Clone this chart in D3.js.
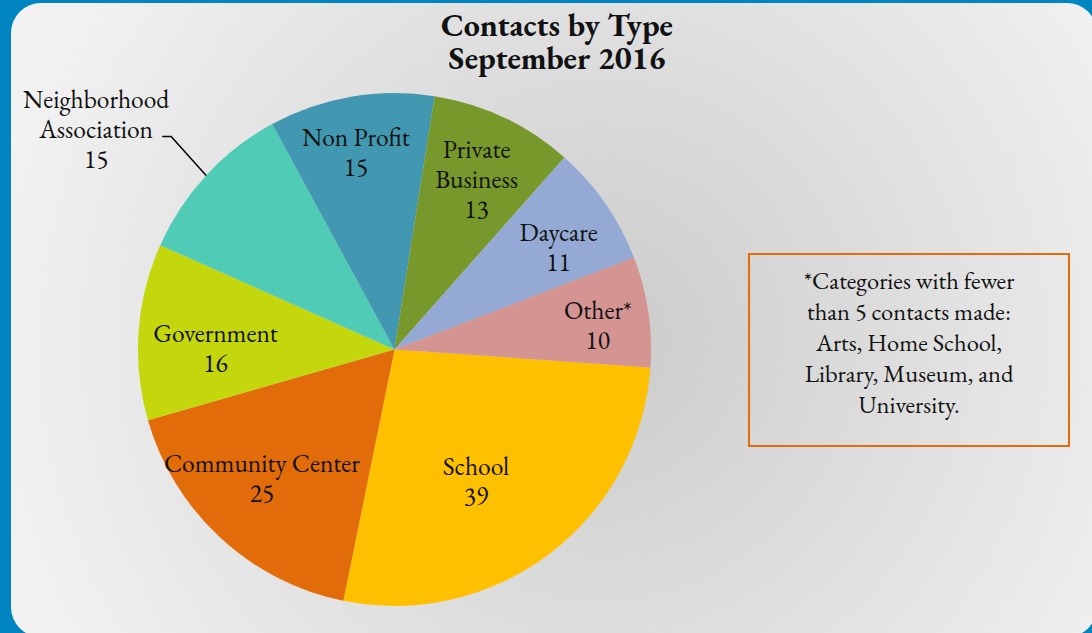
<!DOCTYPE html>
<html>
<head>
<meta charset="utf-8">
<script src="https://cdn.jsdelivr.net/npm/d3@7"></script>
<style>
  html, body { margin: 0; padding: 0; background: #0085c0; }
  svg { display: block; }
  text { font-family: "EB Garamond", Garamond, "Liberation Serif", "DejaVu Serif", serif; fill: #111; }
</style>
</head>
<body>
<svg id="chart" width="1092" height="633"></svg>
<script>
// ---- data ----
const categories = ["School", "Community Center", "Government", "Neighborhood Association",
                    "Non Profit", "Private Business", "Daycare", "Other*"];
const values = [39, 25, 16, 15, 15, 13, 11, 10];
const labelLines = [["School"], ["Community Center"], ["Government"], ["Neighborhood", "Association"],
                    ["Non Profit"], ["Private", "Business"], ["Daycare"], ["Other*"]];
const colors = ["#ffc000", "#e36c0a", "#c4d60c", "#50cbb5", "#4298b0", "#77992b", "#94aad4", "#d49492"];
const titleLines = ["Contacts by Type", "September 2016"];
const noteLines = ["*Categories with fewer", "than 5 contacts made:", "Arts, Home School,",
                   "Library, Museum, and", "University."];

// ---- layout ----
const W = 1092, H = 633;
const cx = 394.5, cy = 349.5, R = 256.5;
const startDeg = 94;
// label nudges from the centroid (Excel "best fit" placement)
const labelNudge = [[-35, -22], [-2, -13], [13, 12], null, [-6, -8], [0, 3], [6, 7], [13, 4]];
const outsideIndex = 3;

const svg = d3.select("#chart");
const defs = svg.append("defs");
const grad = defs.append("radialGradient").attr("id", "bg")
  .attr("gradientUnits", "userSpaceOnUse")
  .attr("cx", 600).attr("cy", 340).attr("r", 620);
grad.append("stop").attr("offset", 0).attr("stop-color", "#cbcbcb");
grad.append("stop").attr("offset", 1).attr("stop-color", "#f2f2f2");

svg.append("rect").attr("width", W).attr("height", H).attr("fill", "#0085c0");
svg.append("rect").attr("x", 11).attr("y", 3).attr("width", 1086).attr("height", 634)
  .attr("rx", 30).attr("ry", 30).attr("fill", "url(#bg)");

// title
svg.append("text").attr("x", 557).attr("text-anchor", "middle")
  .style("font-weight", "bold").style("font-size", "32px")
  .selectAll("tspan").data(titleLines).join("tspan")
  .attr("x", 557).attr("y", (d, i) => 36 + i * 33).text(d => d);

// pie
const pie = d3.pie().sort(null).value(d => d)
  .startAngle(startDeg * Math.PI / 180)
  .endAngle(startDeg * Math.PI / 180 + 2 * Math.PI);
const arcs = pie(values);
const arc = d3.arc().innerRadius(0).outerRadius(R);
const labelArc = d3.arc().innerRadius(R * 0.75).outerRadius(R * 0.75);
const edgeArc = d3.arc().innerRadius(R).outerRadius(R);

const g = svg.append("g").attr("transform", `translate(${cx},${cy})`);
g.selectAll("path.slice").data(arcs).join("path").attr("class", "slice")
  .attr("d", arc).attr("fill", (d, i) => colors[i]);

const lineH = 30;
arcs.forEach((d, i) => {
  const lines = labelLines[i].concat([String(values[i])]);
  let x, y;
  if (i === outsideIndex) {
    const [ex, ey] = edgeArc.centroid(d);
    const elbow = [ex - 35, ey - 39];
    const end = [ex - 44, ey - 39];
    g.append("polyline").attr("points", [[ex, ey], elbow, end].map(p => p.join(",")).join(" "))
      .attr("fill", "none").attr("stroke", "#000").attr("stroke-width", 1.5);
    x = ex - 110; y = ey - 46;
  } else {
    const [lx, ly] = labelArc.centroid(d);
    x = lx + labelNudge[i][0]; y = ly + labelNudge[i][1];
  }
  const t = g.append("text").attr("text-anchor", "middle").style("font-size", "25.5px");
  t.selectAll("tspan").data(lines).join("tspan")
    .attr("x", x).attr("y", (s, k) => y + (k - (lines.length - 1) / 2) * lineH)
    .attr("dominant-baseline", "central").text(s => s);
});

// note box
svg.append("rect").attr("x", 749).attr("y", 254).attr("width", 320).attr("height", 192)
  .attr("fill", "none").attr("stroke", "#e36c0a").attr("stroke-width", 2);
svg.append("text").attr("text-anchor", "middle").style("font-size", "24.5px")
  .selectAll("tspan").data(noteLines).join("tspan")
  .attr("x", 909).attr("y", (d, i) => 280 + i * 31)
  .attr("dominant-baseline", "central").text(d => d);
</script>
</body>
</html>
